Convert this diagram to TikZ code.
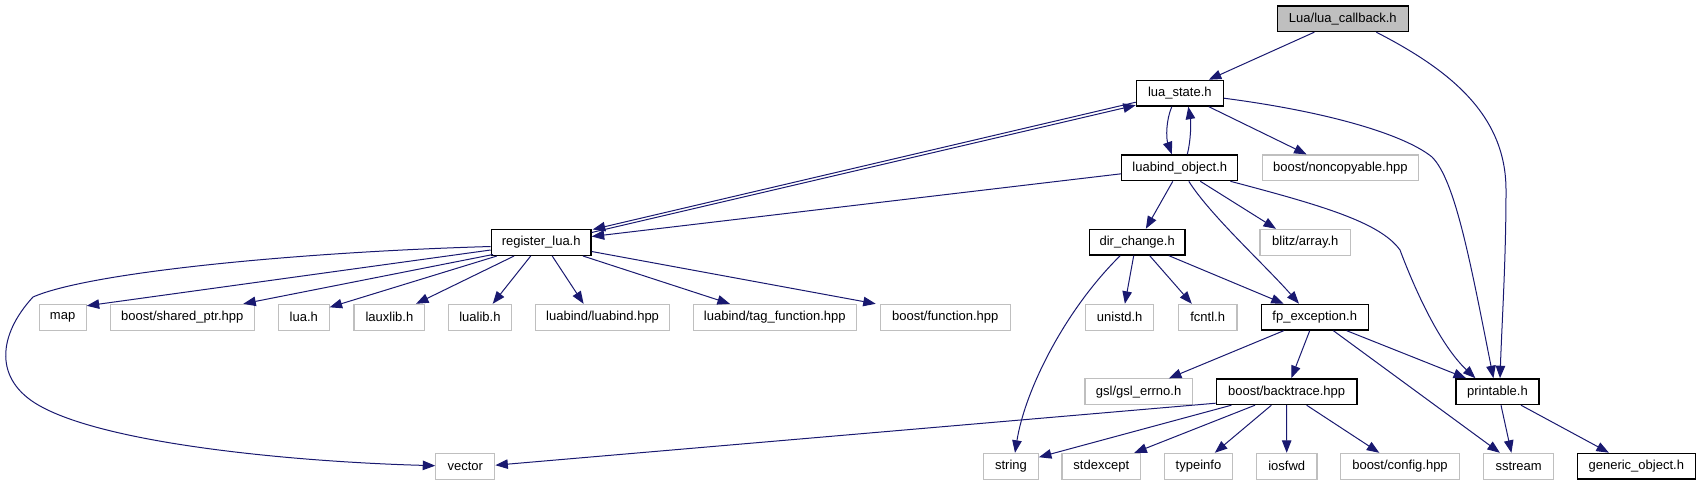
\documentclass[tikz,border=0pt]{standalone}
\usepackage{fontspec}
\setmainfont{Liberation Sans}
\usetikzlibrary{arrows.meta,calc}
\definecolor{edgeblue}{HTML}{191970}
\definecolor{graybd}{HTML}{BFBFBF}
\definecolor{cbfill}{HTML}{BFBFBF}
\begin{document}
\begin{tikzpicture}[x=1pt,y=-1pt,
  nd/.style={rectangle, inner sep=0pt, minimum height=25.7pt, font=\fontsize{13}{15}\selectfont},
  blk/.style={nd, draw=black, line width=1.3pt},
  gry/.style={nd, draw=graybd, line width=1.1pt},
  edge/.style={draw=edgeblue, line width=1pt, -{Triangle[length=12.5pt,width=9.5pt]}}
]
\useasboundingbox (0,0) rectangle (1700,485);

% row 0
\node[blk, fill=cbfill, minimum width=131.2pt] (cb) at (1342.8,18.7) {Lua/lua\_callback.h};
% row 1
\node[blk, minimum width=86.8pt] (ls) at (1179.8,93.2) {lua\_state.h};
% row 2
\node[blk, minimum width=116pt] (lo) at (1179.8,167.8) {luabind\_object.h};
\node[gry, minimum width=156.2pt] (nc) at (1340.3,167.8) {boost/noncopyable.hpp};
% row 3
\node[blk, minimum width=99.7pt] (rl) at (541.2,242.5) {register\_lua.h};
\node[blk, minimum width=95.5pt] (dc) at (1137.2,242.2) {dir\_change.h};
\node[gry, minimum width=90.6pt] (blitz) at (1305.3,242.2) {blitz/array.h};
% row 4
\node[gry, minimum width=47.1pt] (map) at (62.6,317.2) {map};
\node[gry, minimum width=144.3pt] (sp) at (182.3,317.2) {boost/shared\_ptr.hpp};
\node[gry, minimum width=50.5pt] (luah) at (303.8,317.2) {lua.h};
\node[gry, minimum width=70.8pt] (laux) at (389.4,317.2) {lauxlib.h};
\node[gry, minimum width=62.8pt] (lualib) at (479.9,317.2) {lualib.h};
\node[gry, minimum width=133.7pt] (lbhpp) at (602.6,317.2) {luabind/luabind.hpp};
\node[gry, minimum width=162.6pt] (tag) at (774.8,317.2) {luabind/tag\_function.hpp};
\node[gry, minimum width=130pt] (bfun) at (945.3,317.2) {boost/function.hpp};
\node[gry, minimum width=67.9pt] (unistd) at (1119.7,317.2) {unistd.h};
\node[gry, minimum width=58.6pt] (fcntl) at (1207.7,317.2) {fcntl.h};
\node[blk, minimum width=107.1pt] (fp) at (1314.7,317.2) {fp\_exception.h};
% row 5
\node[gry, minimum width=107.2pt] (gsl) at (1138.6,391.7) {gsl/gsl\_errno.h};
\node[blk, minimum width=140.5pt] (bt) at (1286.6,391.7) {boost/backtrace.hpp};
\node[blk, minimum width=83pt] (pr) at (1497.4,391.7) {printable.h};
% row 6
\node[gry, minimum width=59pt] (vector) at (465.3,466.2) {vector};
\node[gry, minimum width=54.7pt] (string) at (1011,466.2) {string};
\node[gry, minimum width=78.6pt] (stdexc) at (1101.3,466.2) {stdexcept};
\node[gry, minimum width=68.5pt] (typeinfo) at (1198.5,466.2) {typeinfo};
\node[gry, minimum width=60.5pt] (iosfwd) at (1286.7,466.2) {iosfwd};
\node[gry, minimum width=119.4pt] (bconf) at (1400,466.2) {boost/config.hpp};
\node[gry, minimum width=69.7pt] (sstream) at (1518.6,466.2) {sstream};
\node[blk, minimum width=118.2pt] (generic) at (1636.3,466.2) {generic\_object.h};

% edges from lua_callback
\draw[edge] ($(cb.south)+(-28.5,0)$) -- ($(ls.north)+(29,0)$);
\draw[edge] ($(cb.south)+(33.5,0)$) .. controls (1450,70) and (1506,115) .. (1506,190)
  .. controls (1506,260) and (1502,320) .. ($(pr.north)+(2.6,0)$);

% lua_state
\draw[edge] ($(ls.south)+(-8,0)$) .. controls (1166,120) and (1166,138) .. ($(lo.north)+(-8,0)$);
\draw[edge] ($(lo.north)+(7.5,0)$) .. controls (1191,140) and (1191,122) .. ($(ls.south)+(8.5,0)$);
\draw[edge] ($(ls.south)+(29,0)$) -- ($(nc.north)+(-33.7,0)$);
\draw[edge] ($(ls.east)+(0,5)$) .. controls (1330,112) and (1405,135) .. (1432,157)
  .. controls (1455,180) and (1470,260) .. ($(pr.north)+(-4,0)$);
\draw[edge] ($(ls.west)+(0,9)$) -- ($(rl.north east)+(1,0.5)$);
\draw[edge] ($(rl.north east)+(0,3.5)$) -- ($(ls.west)+(0,12)$);

% luabind_object
\draw[edge] ($(lo.west)+(0,6)$) -- ($(rl.east)+(0,-6)$);
\draw[edge] ($(lo.south)+(-7,0)$) -- ($(dc.north)+(8.7,0)$);
\draw[edge] ($(lo.south)+(9,0)$) .. controls (1210,215) and (1265,265) .. ($(fp.north)+(-15.7,0)$);
\draw[edge] ($(lo.south)+(20.5,0)$) -- ($(blitz.north)+(-29.3,0)$);
\draw[edge] ($(lo.south east)+(-8,0)$) .. controls (1320,205) and (1380,222) .. (1400,250)
  .. controls (1415,290) and (1440,345) .. ($(pr.north)+(-22,0)$);

% dir_change
\draw[edge] ($(dc.south)+(-3.5,0)$) -- ($(unistd.north)+(5.2,0)$);
\draw[edge] ($(dc.south)+(12.5,0)$) -- ($(fcntl.north)+(-15.9,0)$);
\draw[edge] ($(dc.south)+(31.7,0)$) -- ($(fp.north)+(-31,0)$);
\draw[edge] ($(dc.south)+(-17,0)$) .. controls (1065,310) and (1025,390) .. ($(string.north)+(4,0)$);

% fp_exception
\draw[edge] ($(fp.south)+(-31,0)$) -- ($(gsl.north)+(30.3,0)$);
\draw[edge] ($(fp.south)+(-5,0)$) -- ($(bt.north)+(4.7,0)$);
\draw[edge] ($(fp.south)+(32,0)$) -- ($(pr.north west)+(10.8,0)$);
\draw[edge] ($(fp.south)+(18.7,0)$) -- ($(sstream.north)+(-18.7,0)$);

% printable
\draw[edge] ($(pr.south)+(3.6,0)$) -- ($(sstream.north)+(-7.2,0)$);
\draw[edge] ($(pr.south)+(23.6,0)$) -- ($(generic.north)+(-27.4,0)$);

% backtrace
\draw[edge] ($(bt.south west)+(0,-2)$) -- ($(vector.east)+(0,-1)$);
\draw[edge] ($(bt.south west)+(15.7,0)$) -- ($(string.east)+(0,-9)$);
\draw[edge] ($(bt.south)+(-31.6,0)$) -- ($(stdexc.north)+(33,0)$);
\draw[edge] ($(bt.south)+(-15.2,0)$) -- ($(typeinfo.north)+(16.3,0)$);
\draw[edge] (bt.south) -- (iosfwd.north);
\draw[edge] ($(bt.south)+(20,0)$) -- ($(bconf.north)+(-20.7,0)$);

% register_lua
\draw[edge] ($(rl.west)+(0,7.5)$) -- ($(map.north east)+(0,2)$);
\draw[edge] ($(rl.south west)+(2.3,-1.5)$) -- ($(sp.north east)+(-11.7,0)$);
\draw[edge] ($(rl.south west)+(6.2,0)$) -- ($(luah.north east)+(0,3.5)$);
\draw[edge] ($(rl.south west)+(23.4,0)$) -- ($(laux.north east)+(-9.3,0)$);
\draw[edge] ($(rl.south)+(-10.5,0)$) -- ($(lualib.north)+(12.8,0)$);
\draw[edge] ($(rl.south)+(11,0)$) -- ($(lbhpp.north)+(-19,0)$);
\draw[edge] ($(rl.south east)+(-8.7,0)$) -- ($(tag.north)+(-44.9,0)$);
\draw[edge] ($(rl.east)+(0,9)$) -- ($(bfun.north west)+(-4,0)$);
\draw[edge] ($(rl.west)+(0,4)$) .. controls (300,252) and (90,272) .. (33,297)
  .. controls (-2,335) and (-7,380) .. (40,406)
  .. controls (110,445) and (300,462) .. ($(vector.west)+(0,-0.5)$);
\end{tikzpicture}
\end{document}
